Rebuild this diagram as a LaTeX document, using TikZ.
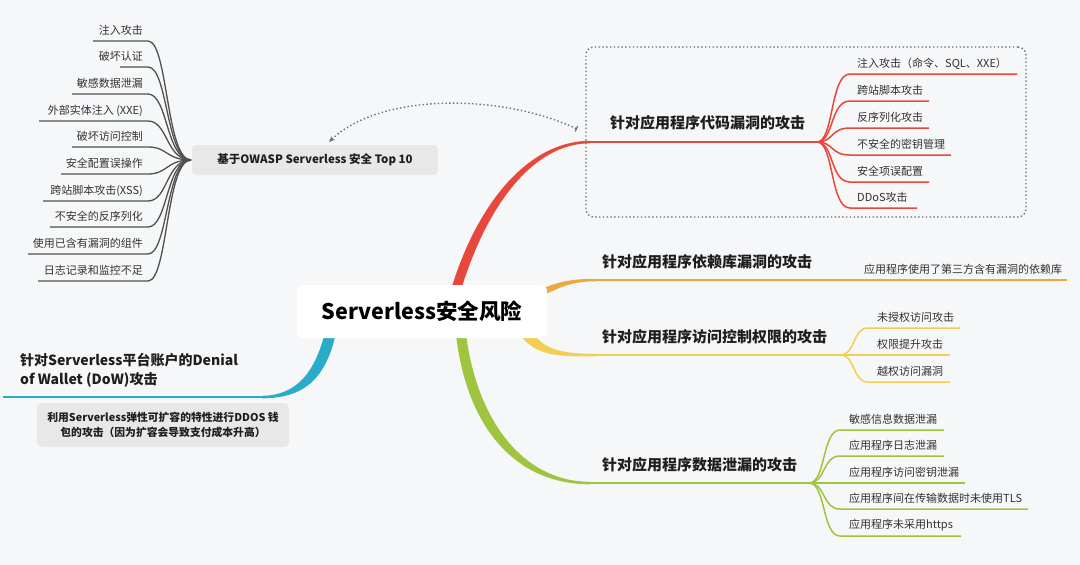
\documentclass[tikz,border=0pt]{standalone}
\usepackage{fontspec}
\setmainfont{Noto Sans CJK SC}
\usetikzlibrary{arrows.meta}
\definecolor{bg}{RGB}{246,247,249}
\definecolor{cred}{RGB}{232,71,59}
\definecolor{corange}{RGB}{238,168,64}
\definecolor{cyellow}{RGB}{244,206,80}
\definecolor{cgreen}{RGB}{158,196,64}
\definecolor{cblue}{RGB}{41,171,201}
\definecolor{lgray}{RGB}{80,80,80}
\definecolor{boxgray}{RGB}{232,232,232}
\definecolor{txt}{RGB}{50,50,50}
\definecolor{dark}{RGB}{30,30,30}
\definecolor{dotc}{RGB}{110,110,110}
\begin{document}
\begin{tikzpicture}[x=1pt,y=-1pt,
  subtext/.style={font=\fontsize{11}{13}\selectfont, text=txt, anchor=west, inner sep=0pt},
  lefttext/.style={font=\fontsize{11}{13}\selectfont, text=txt, anchor=east, inner sep=0pt},
  branchlbl/.style={font=\fontsize{15}{18}\selectfont\bfseries, text=dark, anchor=west, inner sep=0pt},
  leafline/.style={line width=1.5pt},
  mainline/.style={line width=2.3pt},
  dotline/.style={draw=dotc, line width=1.4pt, dash pattern=on 1.4pt off 2.4pt}
]
\useasboundingbox (0,0) rectangle (1080,565);
\fill[bg] (0,0) rectangle (1080,565);

% hub coordinates
\coordinate (hubR) at (817,142);
\coordinate (hubY) at (840,355);
\coordinate (hubG) at (809,483);
\coordinate (hubL) at (191,160);
\coordinate (redS) at (589,142);
\coordinate (oraS) at (594,280);
\coordinate (oraE) at (1067,280);
\coordinate (yelS) at (594,355);
\coordinate (grnS) at (589,483);
\coordinate (bluS) at (263,397);
\coordinate (bluE) at (3,397);

% tapered main branches
\fill[cred] (448,300) .. controls (474,205) and (528,140.8) .. (590,140.8) -- (590,143.3) .. controls (532,143.3) and (484,208) .. (458,300) -- cycle;
\draw[cred, mainline] (redS) -- (hubR);

\fill[corange] (533,293) .. controls (555,282) and (570,278.8) .. (596,278.8) -- (596,281.3) .. controls (572,281.3) and (560,287) .. (540,297) -- cycle;
\draw[corange, mainline] (oraS) -- (oraE);

\fill[cyellow] (531,330) .. controls (543,350) and (562,353.8) .. (596,353.8) -- (596,356.3) .. controls (558,356.8) and (536,356) .. (520,335) -- cycle;
\draw[cyellow, mainline] (yelS) -- (hubY);

\fill[cgreen] (455,325) .. controls (464,428) and (516,484.3) .. (590,484.3) -- (590,481.8) .. controls (522,481.8) and (474,418) .. (465,325) -- cycle;
\draw[cgreen, mainline] (grnS) -- (hubG);

\fill[cblue] (337,328) .. controls (327,380) and (303,398.3) .. (262,398.3) -- (262,395.8) .. controls (297,395.5) and (316,372) .. (326,328) -- cycle;
\draw[cblue, mainline] (bluS) -- (bluE);

% red leaves
\foreach \t/\y/\e [count=\i] in {{注入攻击（命令、SQL、XXE）}/74/1017, 跨站脚本攻击/101/929, 反序列化攻击/128/929, 不安全的密钥管理/155/951, 安全项误配置/182/929, DDoS攻击/208/917}{
  \coordinate (re\i) at (\e,\y);
  \draw[cred, leafline] (hubR) .. controls (834,142) and (830,\y) .. (850,\y) -- (re\i);
  \node[subtext] (r\i) at (857,\y-10.5) {\t};
}

% yellow leaves
\foreach \t/\y/\e [count=\i] in {未授权访问攻击/328/960, 权限提升攻击/355/950, 越权访问漏洞/382/950}{
  \coordinate (ye\i) at (\e,\y);
  \draw[cyellow, leafline] (hubY) .. controls (856,355) and (852,\y) .. (868,\y) -- (ye\i);
  \node[subtext] (y\i) at (877,\y-10.5) {\t};
}

% green leaves
\foreach \t/\y/\e [count=\i] in {敏感信息数据泄漏/430/944, 应用程序日志泄漏/456/944, 应用程序访问密钥泄漏/483/965, 应用程序间在传输数据时未使用TLS/509/1028, 应用程序未采用https/536/961}{
  \coordinate (ge\i) at (\e,\y);
  \draw[cgreen, leafline] (hubG) .. controls (826,483) and (822,\y) .. (840,\y) -- (ge\i);
  \node[subtext] (g\i) at (849,\y-10.5) {\t};
}

% left OWASP list
\foreach \t/\y/\s [count=\i] in {注入攻击/41/93, 破坏认证/67/120, 敏感数据泄漏/94/72, {外部实体注入 (XXE)}/121/39, 破坏访问控制/147/72, 安全配置误操作/174/61, {跨站脚本攻击(XSS)}/201/43, 不安全的反序列化/227/50, 使用已含有漏洞的组件/254/28, 日志记录和监控不足/281/38}{
  \coordinate (ls\i) at (\s,\y);
  \draw[lgray, line width=1.3pt] (hubL) .. controls (166,160) and (168,\y) .. (148,\y) -- (ls\i);
  \node[lefttext] (l\i) at (143,\y-10.5) {\t};
}

% dotted frame
\node[dotline, rounded corners=8pt, minimum width=440pt, minimum height=170pt, inner sep=0pt] (frame) at (806,132) {};

% nodes
\node[fill=white, rounded corners=6pt, minimum width=250pt, minimum height=53pt, inner sep=0pt,
  font=\fontsize{21.5}{24}\selectfont\bfseries, text=black] (root) at (422,311.5) {Serverless安全风险};

\node[fill=boxgray, rounded corners=5pt, minimum width=246pt, minimum height=30pt, inner sep=0pt,
  font=\fontsize{11.5}{13}\selectfont\bfseries, text=dark] (owasp) at (315,160) {基于OWASP Serverless 安全 Top 10};

\node[branchlbl] (redL) at (610,123) {针对应用程序代码漏洞的攻击};
\node[branchlbl] (oraL) at (602,262) {针对应用程序依赖库漏洞的攻击};
\node[branchlbl] (yelL) at (602,337) {针对应用程序访问控制权限的攻击};
\node[branchlbl] (grnL) at (602,465) {针对应用程序数据泄漏的攻击};
\node[subtext] (oraSub) at (864,269) {应用程序使用了第三方含有漏洞的依赖库};

\node[branchlbl, align=left, font=\fontsize{14}{19}\selectfont\bfseries] (bluL) at (20,370) {针对Serverless平台账户的Denial\\of Wallet (DoW)攻击};

\node[fill=boxgray, rounded corners=5pt, minimum width=252pt, minimum height=44pt, inner sep=0pt, align=center,
  font=\fontsize{10.8}{15}\selectfont\bfseries, text=dark] (dow) at (163,425) {利用Serverless弹性可扩容的特性进行DDOS 钱\\包的攻击（因为扩容会导致支付成本升高）};

% dotted arrow from frame to OWASP node
\coordinate (arrS) at (577,129);
\coordinate (arrE) at (329,142);
\draw[dotline, {Bar[width=6pt,line width=1.2pt]}-{Stealth[length=6pt,width=5pt]}] (arrS) .. controls (500,93) and (380,93) .. (arrE);
\end{tikzpicture}
\end{document}
